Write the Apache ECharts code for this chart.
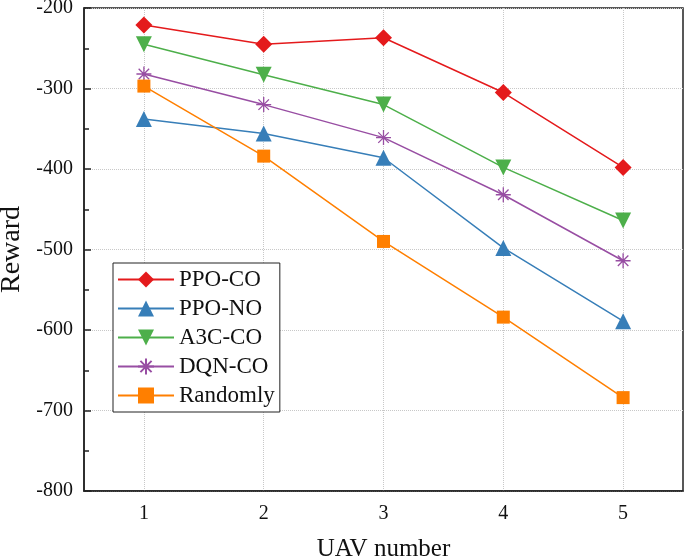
<!DOCTYPE html>
<html>
<head>
<meta charset="utf-8">
<script src="https://cdn.jsdelivr.net/npm/echarts@6/dist/echarts.min.js"></script>
<style>
  html, body { margin: 0; padding: 0; background: #fff; }
  #main { width: 685px; height: 557px; }
</style>
</head>
<body>
<div id="main"></div>
<script>
var uavNumbers = ['1', '2', '3', '4', '5'];
var ppoCO = [-221, -245, -237, -305, -398];
var ppoNO = [-338, -356, -386, -498, -589];
var a3cCO = [-245, -283, -320, -398, -464];
var dqnCO = [-282, -320, -361, -432, -514];
var randomly = [-297, -384, -490, -584, -684];

var font = '"Liberation Serif", "Times New Roman", serif';
var asterisk = 'path://M0,-10L0,10M-10,0L10,0M-7,-7L7,7M-7,7L7,-7';

function makeSeries(name, data, color, symbol, size, extra) {
  var s = {
    name: name,
    type: 'line',
    data: data,
    symbol: symbol,
    symbolSize: size,
    lineStyle: { color: color, width: 1.5 },
    itemStyle: { color: color },
    z: 3
  };
  if (extra) s.itemStyle = extra;
  return s;
}

var myChart = echarts.init(document.getElementById('main'));
myChart.setOption({
  animation: false,
  textStyle: { fontFamily: font },
  grid: {
    left: 84, right: 2, top: 8, bottom: 66,
    outerBoundsMode: 'none',
    containLabel: false,
    show: true, borderColor: '#222', borderWidth: 1.5
  },
  legend: {
    orient: 'vertical',
    left: 113, top: 263,
    itemWidth: 56, itemHeight: 20,
    itemGap: 6,
    padding: [5, 5, 5, 4],
    borderColor: '#222', borderWidth: 1,
    backgroundColor: '#fff',
    textStyle: { fontFamily: font, fontSize: 23, color: '#111' },
    data: ['PPO-CO', 'PPO-NO', 'A3C-CO', 'DQN-CO', 'Randomly']
  },
  xAxis: {
    type: 'category',
    data: uavNumbers,
    boundaryGap: true,
    name: 'UAV number',
    nameLocation: 'middle',
    nameGap: 46,
    nameTextStyle: { fontFamily: font, fontSize: 25, color: '#111' },
    axisLine: { lineStyle: { color: '#222', width: 1.5 } },
    axisTick: { alignWithLabel: true, inside: true, length: 7, lineStyle: { color: '#222', width: 1.5 } },
    axisLabel: { fontFamily: font, fontSize: 20, color: '#111', margin: 13 },
    splitLine: { show: true, alignWithLabel: true, lineStyle: { color: '#c8c8c8', type: 'dotted', width: 1 } }
  },
  yAxis: {
    type: 'value',
    min: -800, max: -200, interval: 100,
    name: 'Reward',
    nameLocation: 'middle',
    nameGap: 58,
    nameTextStyle: { fontFamily: font, fontSize: 28, color: '#111' },
    axisLine: { show: true, lineStyle: { color: '#222', width: 1.5 } },
    axisTick: { show: true, inside: true, length: 7, lineStyle: { color: '#222', width: 1.5 } },
    minorTick: { show: true, splitNumber: 2, length: 5, lineStyle: { color: '#222', width: 1.5 } },
    axisLabel: { fontFamily: font, fontSize: 20, color: '#111', margin: 11 },
    splitLine: { show: true, lineStyle: { color: '#c8c8c8', type: 'dotted', width: 1 } }
  },
  series: [
    makeSeries('PPO-CO', ppoCO, '#e41a1c', 'diamond', 17),
    makeSeries('PPO-NO', ppoNO, '#377eb8', 'triangle', 16),
    makeSeries('A3C-CO', a3cCO, '#4daf4a', 'path://M0,0L20,0L10,17Z', 16),
    makeSeries('DQN-CO', dqnCO, '#984ea3', asterisk, 15,
      { color: '#984ea3', borderColor: '#984ea3', borderWidth: 1.3 }),
    makeSeries('Randomly', randomly, '#ff7f00', 'rect', 13)
  ]
});
</script>
</body>
</html>
